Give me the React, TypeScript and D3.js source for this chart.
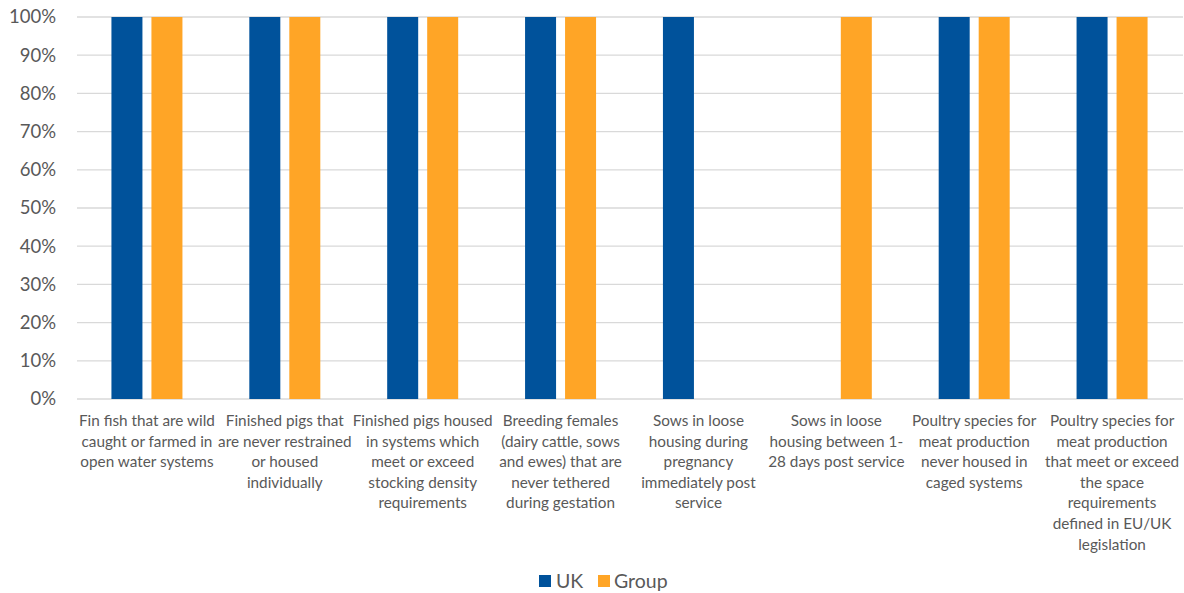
import React from "react";
import * as d3 from "d3";

const categories: string[][] = [
  ["Fin fish that are wild", "caught or farmed in", "open water systems"],
  ["Finished pigs that", "are never restrained", "or housed", "individually"],
  ["Finished pigs housed", "in systems which", "meet or exceed", "stocking density", "requirements"],
  ["Breeding females", "(dairy cattle, sows", "and ewes) that are", "never tethered", "during gestation"],
  ["Sows in loose", "housing during", "pregnancy", "immediately post", "service"],
  ["Sows in loose", "housing between 1-", "28 days post service"],
  ["Poultry species for", "meat production", "never housed in", "caged systems"],
  ["Poultry species for", "meat production", "that meet or exceed", "the space", "requirements", "defined in EU/UK", "legislation"],
];
const ukValues = [1, 1, 1, 1, 1, 0, 1, 1];
const groupValues = [1, 1, 1, 1, 0, 1, 1, 1];
const seriesNames = ["UK", "Group"];
const yTicks = [0, 0.1, 0.2, 0.3, 0.4, 0.5, 0.6, 0.7, 0.8, 0.9, 1];

const W = 1184;
const H = 593;
const FONT = "Lato, 'Open Sans', sans-serif";
const COLORS = ["#00529B", "#FFA526"];
const TEXT = "#595959";

export default function App() {
  const x = d3
    .scaleBand<number>()
    .domain(d3.range(categories.length))
    .range([78, 1181]);
  const y = d3.scaleLinear().domain([0, 1]).range([399, 17]);
  const barW = 31;
  const gap = 9;
  const series = [ukValues, groupValues];
  const fmt = d3.format(".0%");

  return (
    <svg
      width={W}
      height={H}
      style={{ position: "absolute", left: 0, top: 0, background: "#fff" }}
      fontFamily={FONT}
    >
      {yTicks.map((t) => (
        <g key={t}>
          <line x1={77} x2={1183} y1={y(t)} y2={y(t)} stroke="#d9d9d9" strokeWidth={1.3} />
          <text x={56} y={y(t)} dy="0.35em" textAnchor="end" fontSize={18.5} fill={TEXT}>
            {fmt(t)}
          </text>
        </g>
      ))}
      {series.map((vals, si) =>
        vals.map((v, i) => {
          const c = (x(i) as number) + x.bandwidth() / 2;
          const bx = si === 0 ? c - gap / 2 - barW : c + gap / 2;
          return v > 0 ? (
            <rect key={`${si}-${i}`} x={bx} y={y(v)} width={barW} height={y(0) - y(v)} fill={COLORS[si]} />
          ) : null;
        })
      )}
      {categories.map((lines, i) => {
        const c = (x(i) as number) + x.bandwidth() / 2;
        return (
          <text key={i} x={c} y={426} textAnchor="middle" fontSize={15.3} fill={TEXT}>
            {lines.map((l, j) => (
              <tspan key={j} x={c} y={426 + j * 20.6}>
                {l}
              </tspan>
            ))}
          </text>
        );
      })}
      <g>
        <rect x={539} y={575} width={12} height={12} fill={COLORS[0]} />
        <text x={556} y={581} dy="0.35em" fontSize={19.5} fill={TEXT}>
          {seriesNames[0]}
        </text>
        <rect x={598} y={575} width={12} height={12} fill={COLORS[1]} />
        <text x={614} y={581} dy="0.35em" fontSize={19.5} fill={TEXT}>
          {seriesNames[1]}
        </text>
      </g>
    </svg>
  );
}
